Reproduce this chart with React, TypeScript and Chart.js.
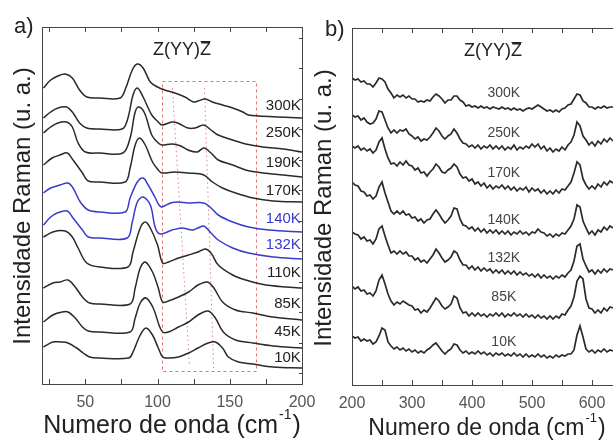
import React, { useEffect, useRef } from "react";
import { Chart, registerables } from "chart.js";
Chart.register(...registerables);

const FONT = '"Liberation Sans", Arial, Helvetica, sans-serif';
const BLACK = "#2a2a2a";
const BLUE = "#3a3acc";

// ---------- Panel a: low-frequency spectra [wavenumber, intensity] ----------
const tempsA = ["300K", "250K", "190K", "170K", "140K", "132K", "110K", "85K", "45K", "10K"];
const colorsA = [BLACK, BLACK, BLACK, BLACK, BLUE, BLUE, BLACK, BLACK, BLACK, BLACK];

const a300K = [[21,29.6],[26,30.4],[31,30.8],[36,31.0],[41,30.6],[46,29.4],[51,28.7],[60,28.6],[74,28.6],[78,29.6],[82.5,31.4],[86,32.0],[90,31.6],[95,30.2],[100,29.7],[105,29.4],[112,29.1],[119,28.7],[125,28.2],[128,28.3],[133,28.5],[138,28.2],[145,27.9],[152,27.6],[159,27.2],[163,26.9],[170,26.8],[184,26.7],[200,26.6]];
const a250K = [[21,26.6],[26,27.2],[31,27.6],[37,27.7],[41.5,27.1],[46,26.1],[51,25.6],[60,25.5],[75.5,25.5],[79.5,26.6],[83,28.9],[86,29.6],[90,28.7],[96,26.9],[100.5,26.2],[103,25.9],[110,26.2],[114,26.1],[121,25.6],[126,25.6],[132,25.9],[137,25.4],[142,24.9],[152,24.4],[161,24.0],[173,23.7],[187,23.5],[200,23.2]];
const a190K = [[21,25.1],[26,25.7],[31,26.1],[37,26.2],[41,25.7],[45,24.1],[50,23.2],[60,23.1],[76,23.1],[81,24.6],[84.5,27.2],[87,27.7],[91,27.1],[96,24.9],[100.5,24.1],[103,23.9],[110,24.0],[116,23.8],[121,23.4],[127.5,23.2],[132,23.6],[137,23.1],[142,22.4],[152,21.9],[161,21.4],[173,21.1],[187,20.9],[200,20.7]];
const a170K = [[21,21.9],[27,22.6],[32.5,22.9],[37.5,23.1],[41.5,22.4],[48,21.1],[52,20.3],[60,20.2],[77.5,20.2],[81,21.6],[84.5,23.9],[87.5,24.6],[91.5,23.9],[96.5,22.2],[100.5,21.4],[103,21.1],[112,21.2],[121,21.1],[132,20.9],[138,20.2],[145,19.6],[154,19.1],[166,18.6],[180,18.3],[200,18.2]];
const a140K = [[21,19.1],[26,19.6],[32.5,19.9],[38,20.1],[41.5,19.6],[46.5,18.2],[52,17.4],[60,17.2],[77.5,17.2],[81,18.6],[86,20.2],[90,20.6],[93.5,19.9],[98.5,18.6],[101,17.9],[103,17.7],[109,18.1],[114,18.2],[121,18.1],[132,18.1],[137,17.6],[142,16.9],[152,16.2],[163,15.7],[177,15.4],[200,15.2]];
const a132K = [[21,15.9],[26,16.7],[30.5,17.1],[37.5,17.3],[41.5,16.6],[48,15.4],[52,14.7],[60,14.6],[79,14.6],[82.5,16.2],[86,18.2],[90,18.7],[95,17.9],[98.5,15.6],[102,15.0],[110,15.4],[117,15.6],[124,15.4],[128,15.6],[132,15.8],[137,15.1],[142,14.4],[152,13.6],[163,13.1],[180,12.7],[200,12.5]];
const a110K = [[21,14.7],[27.5,15.2],[36,15.3],[41,14.7],[45,13.6],[51,12.1],[60,11.7],[79.5,11.7],[83,13.2],[88,15.6],[91.5,16.2],[95,15.6],[100,13.9],[103.5,12.1],[107.5,12.2],[114.5,12.6],[121.5,12.9],[128,13.2],[133,13.5],[137,13.1],[142,11.9],[152,10.9],[161,10.4],[175,9.9],[200,9.6]];
const a85K = [[21,9.6],[27.5,10.1],[32.5,10.2],[38,10.4],[43,9.7],[48,8.7],[53,8.1],[60,8.0],[81,8.0],[84.5,9.6],[88,11.6],[91.5,12.2],[96.5,11.2],[100.5,9.6],[103.5,8.2],[107.5,8.3],[114.5,8.7],[121.5,9.2],[128,9.9],[134.5,10.2],[139,9.6],[145,8.2],[154,7.4],[166,7.1],[180,6.7],[200,6.4]];
const a45K = [[21,6.2],[27.5,6.9],[34,7.2],[38,7.2],[43,6.6],[48,5.7],[52,5.3],[60,5.2],[81,5.2],[84.5,6.6],[88,8.1],[92,8.6],[97,7.6],[101,5.9],[103.5,5.2],[107.5,5.2],[114.5,5.7],[121.5,6.2],[128,6.9],[135,7.3],[140,6.6],[145.5,5.2],[154,4.4],[166,4.1],[180,3.8],[200,3.6]];
const a10K = [[21,3.7],[27.5,4.2],[32.5,4.2],[38,4.1],[44,3.6],[48.5,3.1],[53,2.7],[60,2.6],[80,2.6],[83,3.2],[88,4.9],[92,5.6],[96.5,4.9],[100.5,3.6],[103.5,2.7],[107.5,2.6],[114.5,2.7],[121.5,3.1],[128,3.6],[135,4.1],[140,4.2],[145,3.6],[149,2.7],[156,2.2],[166,2.0],[180,1.7],[200,1.6]];
const seriesA = [a300K, a250K, a190K, a170K, a140K, a132K, a110K, a85K, a45K, a10K];
const labelLevelsA = [27.8, 25.1, 22.1, 19.3, 16.5, 13.9, 11.1, 8.0, 5.2, 2.6];
const xTickLabelsA = [50, 100, 150, 200];
const rightTicksA = [1.1, 4.15, 7.2, 10.25, 13.3, 16.35, 19.4, 22.45, 25.5, 28.55, 31.6, 34.65];
// highlighted region (wavenumber / intensity units)
const boxA = { x0: 103.3, x1: 168.6, y0: 1.3, y1: 30.3 };
const guideLinesA = [[110.3, 29.6, 122.1, 1.9], [132.5, 29.6, 138.8, 1.6]];

// ---------- Panel b: high-frequency spectra ----------
const tempsB = ["300K", "250K", "170K", "140K", "132K", "85K", "10K"];
const wavenumbersB = [200,205,210,215,220,225,230,235,240,245,250,255,260,265,270,275,280,285,290,295,300,305,310,315,320,325,330,335,340,345,350,355,360,365,370,375,380,385,390,395,400,405,410,415,420,425,430,435,440,445,450,455,460,465,470,475,480,485,490,495,500,505,510,515,520,525,530,535,540,545,550,555,560,565,570,575,580,585,590,595,600,605,610,615,620,625,630,635];
const b300K = [30.7,30.5,30.6,30.3,30.4,30.1,30.1,29.8,30.2,30.7,30.6,30.3,29.6,29.2,28.7,29.0,28.8,29.0,28.7,28.9,28.6,28.6,28.3,28.4,28.3,28.5,28.4,28.8,29.1,28.9,28.6,28.2,28.5,28.5,28.9,28.9,28.5,28.3,27.9,28.0,27.8,27.9,27.7,27.9,27.7,27.8,27.6,27.8,27.7,27.6,27.8,27.6,27.7,27.5,27.7,27.5,27.6,27.4,27.6,27.7,27.6,27.8,28.0,27.8,27.6,27.4,27.5,27.3,27.5,27.3,27.6,27.7,28.0,28.1,28.6,29.1,29.0,28.4,28.2,27.8,27.8,27.6,27.8,27.7,27.9,27.7,27.8,27.8];
const b250K = [27.0,26.8,26.9,26.5,26.7,26.3,26.1,26.2,26.6,27.4,27.3,26.5,25.7,25.2,25.5,25.2,25.5,25.4,25.6,25.1,24.9,24.6,24.8,24.4,24.6,24.5,24.8,25.2,25.7,25.4,24.9,24.6,24.9,25.1,25.6,25.2,24.6,24.2,24.1,23.8,24.0,23.7,24.0,23.6,23.9,23.7,24.0,23.6,23.9,23.6,23.9,23.5,23.8,23.6,24.0,23.5,23.8,23.6,23.9,23.7,24.1,23.8,24.1,23.6,23.9,23.4,23.7,23.3,23.6,23.4,23.8,23.5,24.0,24.3,25.0,26.3,25.9,24.9,24.5,24.0,24.3,23.9,24.4,24.1,24.6,24.3,24.7,24.4];
const b170K = [23.9,23.7,23.9,23.5,23.7,23.4,23.6,23.2,23.5,24.3,24.7,23.6,22.7,22.1,22.2,21.9,22.3,22.0,22.4,22.0,21.9,21.5,21.7,21.2,21.3,20.9,21.3,21.6,22.1,21.8,21.3,21.2,21.5,21.7,22.1,21.8,21.1,20.7,20.8,20.4,20.6,20.1,20.3,19.9,20.2,19.7,20.0,19.6,19.9,19.7,20.0,19.6,19.9,19.5,19.8,19.4,19.7,19.5,19.8,19.3,19.7,19.4,19.6,19.2,19.5,19.1,19.4,19.1,19.5,19.2,19.6,19.5,19.9,20.3,21.2,22.3,22.0,20.6,20.0,19.6,19.9,19.6,20.1,19.8,20.3,20.0,20.4,20.2];
const b140K = [20.3,20.0,19.9,19.4,19.3,18.9,19.0,18.6,18.9,19.8,20.3,19.2,18.3,17.4,17.1,17.4,17.1,17.4,17.0,17.1,16.7,16.8,16.4,16.6,16.2,16.5,16.6,17.1,17.5,17.1,16.6,16.2,16.5,16.9,17.7,17.6,16.6,16.0,15.9,15.6,15.8,15.4,15.7,15.3,15.6,15.2,15.5,15.2,15.5,15.1,15.4,15.1,15.4,15.0,15.3,15.1,15.4,15.1,15.3,15.0,15.3,15.2,15.6,15.3,15.2,14.9,15.1,14.8,15.1,14.9,15.2,15.1,15.5,15.9,16.6,18.0,17.8,16.4,15.7,15.1,15.4,15.0,15.5,15.3,15.8,15.5,15.9,15.7];
const b132K = [15.3,15.1,15.0,14.6,14.8,14.4,14.5,14.1,14.6,15.6,15.9,14.9,14.0,13.2,13.4,13.1,13.4,13.1,13.3,12.9,12.9,12.5,12.7,12.3,12.5,12.2,12.6,13.0,13.6,13.2,12.7,12.3,12.5,12.8,13.4,13.2,12.5,12.0,12.0,11.6,11.9,11.5,11.8,11.4,11.7,11.4,11.6,11.2,11.5,11.2,11.5,11.1,11.4,11.1,11.4,11.0,11.3,11.0,11.2,10.9,11.1,10.8,11.1,10.7,11.0,10.7,10.9,10.6,10.9,10.7,11.0,10.8,11.2,11.5,12.4,13.9,14.1,12.6,11.9,11.3,11.5,11.1,11.5,11.2,11.6,11.3,11.6,11.5];
const b85K = [9.9,9.6,9.8,9.4,9.5,9.1,9.2,8.9,9.4,10.5,11.0,10.1,9.1,8.4,8.0,8.3,8.1,8.4,8.2,8.0,7.9,7.5,7.6,7.2,7.5,7.3,7.7,8.2,8.7,8.4,7.9,7.6,7.8,8.1,8.9,8.7,7.7,7.2,7.3,6.9,7.2,6.9,7.2,6.9,7.1,6.8,7.1,6.9,7.2,6.9,7.2,6.8,7.1,6.9,7.2,6.9,7.1,6.8,7.1,6.8,7.0,6.7,7.0,6.7,6.9,6.6,6.9,6.6,6.9,6.7,7.1,7.0,7.5,7.9,8.8,10.4,10.9,10.6,8.6,7.7,7.6,7.2,7.5,7.2,7.7,7.4,7.8,7.7];
const b10K = [4.9,4.7,4.8,4.4,4.6,4.4,4.5,4.1,4.3,4.9,5.7,5.5,4.3,3.9,3.6,3.8,3.5,3.7,3.4,3.6,3.3,3.5,3.2,3.4,3.2,3.5,3.7,4.0,4.2,3.8,3.4,3.1,3.4,3.6,4.1,4.0,3.5,3.2,3.4,3.1,3.3,3.1,3.4,3.1,3.3,3.0,3.2,2.9,3.2,3.0,3.2,2.9,3.1,2.9,3.2,2.9,3.1,2.8,3.1,2.8,3.0,2.8,3.1,2.8,3.0,2.7,2.9,2.7,3.0,2.8,3.0,2.9,3.1,3.1,3.5,5.0,5.9,4.8,3.6,3.3,3.5,3.2,3.5,3.3,3.6,3.3,3.5,3.4];
const seriesB = [b300K, b250K, b170K, b140K, b132K, b85K, b10K];
const labelLevelsB = [29.2, 25.2, 21.2, 16.5, 12.7, 8.8, 4.3];
const xTickLabelsB = [200, 300, 400, 500, 600];

// ---------- drawing helpers ----------
function drawFrameAndTicks(chart: any, minorStep: number, min: number, max: number, rightTicks?: number[]) {
  const { ctx, chartArea: ca } = chart;
  const xs = chart.scales.x;
  const ys = chart.scales.y;
  ctx.save();
  ctx.strokeStyle = "#444";
  ctx.lineWidth = 1;
  ctx.strokeRect(Math.round(ca.left) + 0.5, Math.round(ca.top) + 0.5, Math.round(ca.right - ca.left), Math.round(ca.bottom - ca.top));
  ctx.beginPath();
  for (let v = min; v <= max + 1e-6; v += minorStep) {
    const px = Math.round(xs.getPixelForValue(v)) + 0.5;
    ctx.moveTo(px, ca.bottom);
    ctx.lineTo(px, ca.bottom - 5);
    ctx.moveTo(px, ca.top);
    ctx.lineTo(px, ca.top + 5);
  }
  if (rightTicks) {
    for (const t of rightTicks) {
      const py = Math.round(ys.getPixelForValue(t)) + 0.5;
      ctx.moveTo(ca.right, py);
      ctx.lineTo(ca.right - 3, py);
    }
  }
  ctx.stroke();
  ctx.restore();
}

function drawZTitle(ctx: CanvasRenderingContext2D, cx: number, baseline: number, size: number) {
  ctx.save();
  ctx.font = `${size}px ${FONT}`;
  ctx.fillStyle = "#222";
  ctx.textBaseline = "alphabetic";
  ctx.textAlign = "left";
  const main = "Z(YY)";
  const w1 = ctx.measureText(main).width;
  const w2 = ctx.measureText("Z").width;
  const x0 = cx - (w1 + w2) / 2;
  ctx.fillText(main + "Z", x0, baseline);
  ctx.strokeStyle = "#222";
  ctx.lineWidth = 1;
  ctx.beginPath();
  const oy = Math.round(baseline - size * 0.8) + 0.5;
  ctx.moveTo(x0 + w1 + 0.5, oy);
  ctx.lineTo(x0 + w1 + w2 - 0.5, oy);
  ctx.stroke();
  ctx.restore();
}

function drawXTitle(ctx: CanvasRenderingContext2D, cx: number, baseline: number, size: number) {
  ctx.save();
  ctx.fillStyle = "#222";
  ctx.textBaseline = "alphabetic";
  ctx.textAlign = "left";
  const p1 = "Numero de onda (cm";
  const sup = "-1";
  const p3 = ")";
  ctx.font = `${size}px ${FONT}`;
  const w1 = ctx.measureText(p1).width;
  const w3 = ctx.measureText(p3).width;
  const supSize = Math.round(size * 0.55);
  ctx.font = `${supSize}px ${FONT}`;
  const w2 = ctx.measureText(sup).width + 2;
  const x0 = cx - (w1 + w2 + w3) / 2;
  ctx.font = `${size}px ${FONT}`;
  ctx.fillText(p1, x0, baseline);
  ctx.fillText(p3, x0 + w1 + w2, baseline);
  ctx.font = `${supSize}px ${FONT}`;
  ctx.fillText(sup, x0 + w1 + 1, baseline - size * 0.55);
  ctx.restore();
}

function drawYTitle(ctx: CanvasRenderingContext2D, cx: number, cy: number, size: number) {
  ctx.save();
  ctx.translate(cx, cy);
  ctx.rotate(-Math.PI / 2);
  ctx.font = `${size}px ${FONT}`;
  ctx.fillStyle = "#222";
  ctx.textAlign = "center";
  ctx.textBaseline = "middle";
  ctx.fillText("Intensidade Raman (u. a.)", 0, 0);
  ctx.restore();
}

function drawLetter(ctx: CanvasRenderingContext2D, text: string, x: number, baseline: number) {
  ctx.save();
  ctx.font = `22px ${FONT}`;
  ctx.fillStyle = "#222";
  ctx.textAlign = "left";
  ctx.textBaseline = "alphabetic";
  ctx.fillText(text, x, baseline);
  ctx.restore();
}

const decorA = {
  id: "decorA",
  beforeDatasetsDraw(chart: any) {
    const { ctx } = chart;
    const xs = chart.scales.x;
    const ys = chart.scales.y;
    ctx.save();
    ctx.strokeStyle = "rgba(225,70,70,0.75)";
    ctx.lineWidth = 1;
    ctx.setLineDash([3, 3]);
    const x0 = xs.getPixelForValue(boxA.x0), x1 = xs.getPixelForValue(boxA.x1);
    const y0 = ys.getPixelForValue(boxA.y0), y1 = ys.getPixelForValue(boxA.y1);
    ctx.strokeRect(Math.round(x0) + 0.5, Math.round(y1) + 0.5, Math.round(x1 - x0), Math.round(y0 - y1));
    ctx.strokeStyle = "rgba(215,80,110,0.7)";
    ctx.setLineDash([1.5, 3]);
    ctx.beginPath();
    for (const [vx0, vy0, vx1, vy1] of guideLinesA) {
      ctx.moveTo(xs.getPixelForValue(vx0), ys.getPixelForValue(vy0));
      ctx.lineTo(xs.getPixelForValue(vx1), ys.getPixelForValue(vy1));
    }
    ctx.stroke();
    ctx.restore();
  },
  afterDraw(chart: any) {
    const { ctx } = chart;
    const xs = chart.scales.x;
    const ys = chart.scales.y;
    drawFrameAndTicks(chart, 25, 25, 200, rightTicksA);
    ctx.save();
    ctx.font = `15px ${FONT}`;
    ctx.textAlign = "right";
    ctx.textBaseline = "middle";
    tempsA.forEach((t, i) => {
      ctx.fillStyle = colorsA[i] === BLUE ? BLUE : "#222";
      ctx.fillText(t, xs.getPixelForValue(199.2), ys.getPixelForValue(labelLevelsA[i]));
    });
    ctx.restore();
    drawZTitle(ctx, 182, 55, 18);
    drawXTitle(ctx, 172, 433, 25);
    drawYTitle(ctx, 23, 206, 24);
    drawLetter(ctx, "a)", 14, 33);
  },
};

const OFFSET_B = 306;
const decorB = {
  id: "decorB",
  afterDraw(chart: any) {
    const { ctx } = chart;
    const xs = chart.scales.x;
    const ys = chart.scales.y;
    drawFrameAndTicks(chart, 50, 200, 650);
    ctx.save();
    ctx.font = `14px ${FONT}`;
    ctx.textAlign = "center";
    ctx.textBaseline = "middle";
    ctx.fillStyle = "#444";
    tempsB.forEach((t, i) => {
      ctx.fillText(t, xs.getPixelForValue(453), ys.getPixelForValue(labelLevelsB[i]));
    });
    ctx.restore();
    drawZTitle(ctx, 493 - OFFSET_B, 56, 18);
    drawXTitle(ctx, 487 - OFFSET_B, 435, 23);
    drawYTitle(ctx, 324 - OFFSET_B, 208, 24);
    drawLetter(ctx, "b)", 325 - OFFSET_B, 36);
  },
};

function xScale(min: number, max: number, step: number, allowed: number[], height: number) {
  return {
    type: "linear" as const,
    min,
    max,
    grid: { display: false, drawTicks: false },
    border: { display: false },
    ticks: {
      stepSize: step,
      includeBounds: false,
      autoSkip: false,
      maxRotation: 0,
      padding: 9,
      color: "#555",
      font: { family: FONT, size: 16 },
      callback: (v: any) => (allowed.includes(Number(v)) ? String(v) : ""),
    },
    afterFit: (s: any) => {
      s.height = height;
      s.paddingLeft = 0;
      s.paddingRight = 0;
    },
  };
}

const WIDTH_A = 330;

export default function App() {
  const refA = useRef<HTMLCanvasElement>(null);
  const refB = useRef<HTMLCanvasElement>(null);

  useEffect(() => {
    if (!refA.current || !refB.current) return;
    const chartA = new Chart(refA.current, {
      type: "line",
      data: {
        datasets: seriesA.map((pts, i) => ({
          label: tempsA[i],
          data: pts.map(([x, y]) => ({ x, y })),
          borderColor: colorsA[i],
          borderWidth: 1.5,
          pointRadius: 0,
          tension: 0.35,
          fill: false,
        })),
      },
      options: {
        animation: false,
        responsive: false,
        devicePixelRatio: 1,
        events: [],
        layout: { padding: { left: 42, right: WIDTH_A - 302, top: 27, bottom: 0 } },
        plugins: { legend: { display: false }, tooltip: { enabled: false } },
        scales: {
          x: xScale(20, 200, 50, xTickLabelsA, 57),
          y: { type: "linear", display: false, min: 0, max: 35.7 },
        },
      },
      plugins: [decorA],
    } as any);
    const chartB = new Chart(refB.current, {
      type: "line",
      data: {
        datasets: seriesB.map((vals, i) => ({
          label: tempsB[i],
          data: vals.map((y, j) => ({ x: wavenumbersB[j], y })),
          borderColor: BLACK,
          borderWidth: 1.7,
          pointRadius: 0,
          tension: 0,
          fill: false,
        })),
      },
      options: {
        animation: false,
        responsive: false,
        devicePixelRatio: 1,
        events: [],
        layout: { padding: { left: 46, right: 4, top: 28, bottom: 0 } },
        plugins: { legend: { display: false }, tooltip: { enabled: false } },
        scales: {
          x: xScale(200, 650, 100, xTickLabelsB, 56),
          y: { type: "linear", display: false, min: 0, max: 35.7 },
        },
      },
      plugins: [decorB],
    } as any);
    return () => {
      chartA.destroy();
      chartB.destroy();
    };
  }, []);

  return (
    <div style={{ position: "fixed", left: 0, top: 0, width: 613, height: 441, overflow: "hidden", background: "#fff" }}>
      <canvas ref={refA} width={WIDTH_A} height={441} style={{ position: "absolute", left: 0, top: 0, width: WIDTH_A, height: 441 }} />
      <canvas ref={refB} width={320} height={441} style={{ position: "absolute", left: OFFSET_B, top: 0, width: 320, height: 441 }} />
    </div>
  );
}
